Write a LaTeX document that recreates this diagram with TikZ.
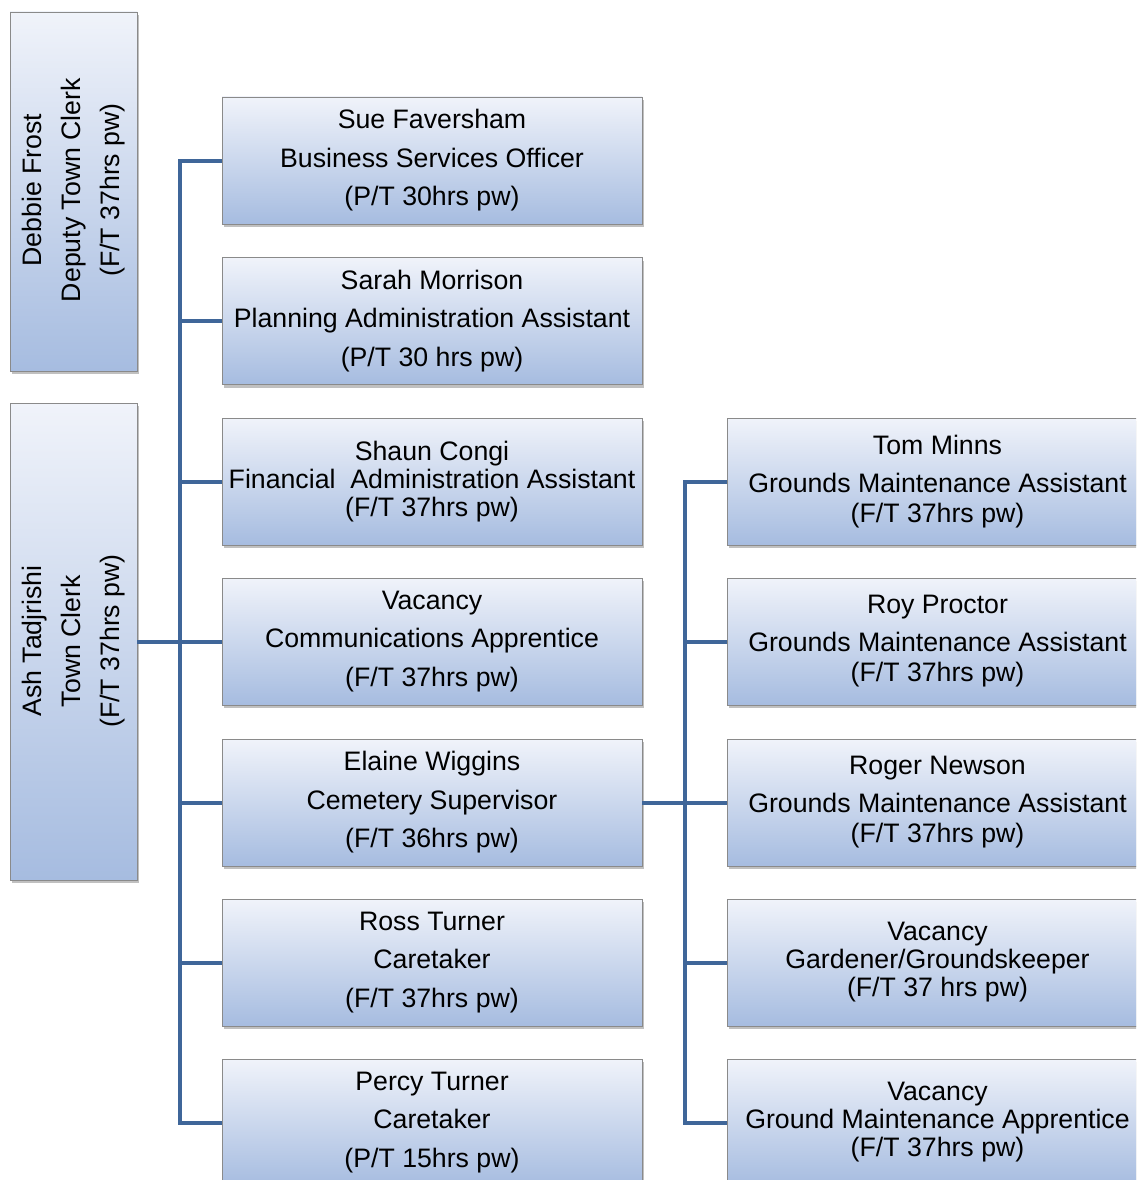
\documentclass[tikz,border=0pt]{standalone}
\usepackage{fontspec}
\setmainfont{Liberation Sans}
\usetikzlibrary{shadows}
\definecolor{conncol}{HTML}{3F6699}
\definecolor{boxtop}{HTML}{F0F3FA}
\definecolor{boxbot}{HTML}{A6BCE0}
\definecolor{boxline}{HTML}{8A8A8A}
\tikzset{
  orgbox/.style={draw=boxline, line width=0.8pt, top color=boxtop, bottom color=boxbot,
    drop shadow={shadow xshift=2pt, shadow yshift=-3pt, opacity=0.35, fill=black!70},
    align=center, inner sep=0pt, font=\fontsize{26.7}{28}\selectfont},
  midbox/.style={orgbox, minimum width=420pt, minimum height=127pt,
    execute at begin node={\rule{0pt}{24pt}}},
  sidebox/.style={orgbox, minimum width=127pt},
  rottext/.style={rotate=90, align=center, inner sep=0pt, font=\fontsize{26.7}{28}\selectfont},
  conn/.style={draw=conncol, line width=4pt}
}
\begin{document}
\begin{tikzpicture}[x=1pt,y=-1pt]
\useasboundingbox (0,0) rectangle (1136,1180);
\clip (0,0) rectangle (1136,1180);
\fill[white] (0,0) rectangle (1136,1180);

% left side boxes
\node[sidebox, minimum height=359pt] (debbie) at (73.5,191.5) {};
\node[rottext] (debbietext) at (73.5,190) {Debbie Frost\\[11pt]Deputy Town Clerk\\[11pt](F/T 37hrs pw)};
\node[sidebox, minimum height=477pt] (ash) at (73.5,641.5) {};
\node[rottext] (ashtext) at (73.5,641) {Ash Tadjrishi\\[11pt]Town Clerk\\[11pt](F/T 37hrs pw)};

% middle column
\node[midbox] (sue) at (432,160.5) {Sue Faversham\\[10.5pt]Business Services Officer\\[10.5pt](P/T 30hrs pw)};
\node[midbox] (sarah) at (432,321) {Sarah Morrison\\[10.5pt]Planning Administration Assistant\\[10.5pt](P/T 30 hrs pw)};
\node[midbox] (shaun) at (432,481.5) {Shaun Congi\\Financial\ \ Administration Assistant\\(F/T 37hrs pw)};
\node[midbox] (vaccomm) at (432,641.5) {Vacancy\\[10.5pt]Communications Apprentice\\[10.5pt](F/T 37hrs pw)};
\node[midbox] (elaine) at (432,802.5) {Elaine Wiggins\\[10.5pt]Cemetery Supervisor\\[10.5pt](F/T 36hrs pw)};
\node[midbox] (ross) at (432,962.5) {Ross Turner\\[10.5pt]Caretaker\\[10.5pt](F/T 37hrs pw)};
\node[midbox] (percy) at (432,1122.5) {Percy Turner\\[10.5pt]Caretaker\\[10.5pt](P/T 15hrs pw)};

% right column
\node[midbox, minimum width=421pt] (tom) at (937.5,481.5) {Tom Minns\\[10pt]Grounds Maintenance Assistant\\[2pt](F/T 37hrs pw)};
\node[midbox, minimum width=421pt] (roy) at (937.5,641.5) {Roy Proctor\\[10pt]Grounds Maintenance Assistant\\[2pt](F/T 37hrs pw)};
\node[midbox, minimum width=421pt] (roger) at (937.5,802.5) {Roger Newson\\[10pt]Grounds Maintenance Assistant\\[2pt](F/T 37hrs pw)};
\node[midbox, minimum width=421pt] (vacgard) at (937.5,962.5) {Vacancy\\Gardener/Groundskeeper\\(F/T 37 hrs pw)};
\node[midbox, minimum width=421pt] (vacgma) at (937.5,1122.5) {Vacancy\\Ground Maintenance Apprentice\\(F/T 37hrs pw)};

% connectors, left spine
\coordinate (spinetop) at (180,160.5);
\coordinate (spinebot) at (180,1122.5);
\draw[conn] (sue.west) -- (spinetop) -- (spinebot) -- (percy.west);
\foreach \b in {sarah,shaun,vaccomm,elaine,ross}
  \draw[conn] (\b.west) -- (\b.west -| spinetop);
\draw[conn] (ash.east) -- (vaccomm.west);

% connectors, right spine
\coordinate (rspinetop) at (685,481.5);
\coordinate (rspinebot) at (685,1122.5);
\draw[conn] (tom.west) -- (rspinetop) -- (rspinebot) -- (vacgma.west);
\foreach \b in {roy,vacgard}
  \draw[conn] (\b.west) -- (\b.west -| rspinetop);
\draw[conn] (elaine.east) -- (roger.west);
\end{tikzpicture}
\end{document}
